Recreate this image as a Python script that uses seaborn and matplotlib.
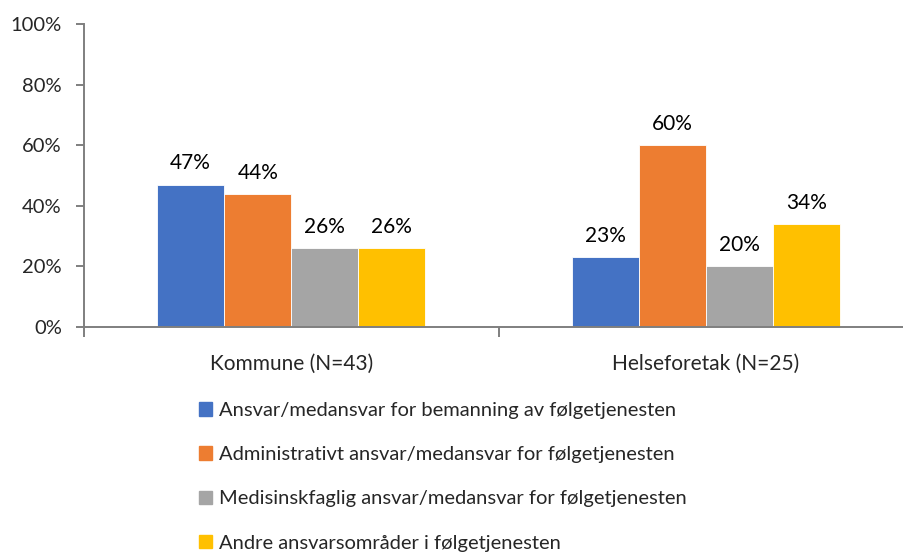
import pandas as pd
import matplotlib.pyplot as plt
import seaborn as sns
from matplotlib.ticker import PercentFormatter, FixedLocator

# --- Dados ---
grupos = ['Kommune (N=43)', 'Helseforetak (N=25)']
serier = [
    'Ansvar/medansvar for bemanning av følgetjenesten',
    'Administrativt ansvar/medansvar for følgetjenesten',
    'Medisinskfaglig ansvar/medansvar for følgetjenesten',
    'Andre ansvarsområder i følgetjenesten',
]
kommune = [47, 44, 26, 26]
helseforetak = [23, 60, 20, 34]
cores = ['#4472C4', '#ED7D31', '#A5A5A5', '#FFC000']

df = pd.DataFrame({
    'gruppe': [grupos[0]] * 4 + [grupos[1]] * 4,
    'serie': serier * 2,
    'verdi': kommune + helseforetak,
})

sns.set_style('white')
plt.rcParams['font.family'] = ['Lato', 'DejaVu Sans']

fig = plt.figure(figsize=(9.04, 5.57), dpi=100)
ax = fig.add_axes([84 / 904, 1 - 327 / 557, 829 / 904, 303 / 557])

sns.barplot(data=df, x='gruppe', y='verdi', hue='serie', hue_order=serier,
            palette=cores, width=0.647, gap=0, saturation=1, ax=ax,
            edgecolor='white', linewidth=0.6, legend=False)

# rótulos de valor acima das barras
for cont in ax.containers:
    ax.bar_label(cont, fmt='%.0f%%', padding=8, fontsize=15, color='black')

ax.set_ylim(0, 100)
ax.set_xlim(-0.5, 1.5)
ax.set_yticks(range(0, 101, 20))
ax.yaxis.set_major_formatter(PercentFormatter(decimals=0))
ax.set_xlabel('')
ax.set_ylabel('')

for s in ['top', 'right']:
    ax.spines[s].set_visible(False)
for s in ['left', 'bottom']:
    ax.spines[s].set_color('#7f7f7f')
    ax.spines[s].set_linewidth(1.4)

ax.tick_params(axis='y', direction='out', length=6, width=1.4, color='#7f7f7f',
               labelsize=14.5, pad=10, left=True)
ax.tick_params(axis='x', which='major', length=0, labelsize=15, pad=19)
ax.xaxis.set_minor_locator(FixedLocator([-0.5, 0.5, 1.5]))
ax.tick_params(axis='x', which='minor', direction='out', length=7, width=1.4,
               color='#7f7f7f', bottom=True)

handles = [plt.Rectangle((0, 0), 1, 1, color=c) for c in cores]
fig.legend(handles, serier, loc='upper left', bbox_to_anchor=(199 / 904, 1 - 402 / 557),
           frameon=False, fontsize=14.5, handlelength=0.65, handleheight=0.65,
           handletextpad=0.35, labelspacing=1.35, borderaxespad=0, borderpad=0)

fig.savefig('out.png', dpi=100)
